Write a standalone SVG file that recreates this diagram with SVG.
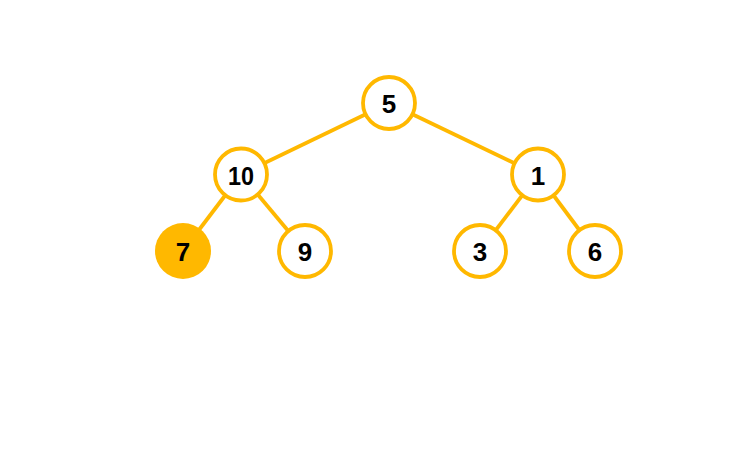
<svg xmlns="http://www.w3.org/2000/svg" width="750" height="450" viewBox="0 0 750 450">
<style>
.edge{stroke:#FFB800;stroke-width:3.8;fill:none}
.node circle{fill:#fff;stroke:#FFB800;stroke-width:3.8}
.node.hl circle{fill:#FFB800}
.node text{font-family:"Liberation Sans",Arial,sans-serif;font-weight:bold;font-size:26px;fill:#000;text-anchor:middle;dominant-baseline:central}
</style>
<rect width="750" height="450" fill="#fff"/>
<g id="connectors">
<line class="edge" x1="389" y1="103" x2="241" y2="174.5"/>
<line class="edge" x1="389" y1="103" x2="538" y2="174.5"/>
<line class="edge" x1="241" y1="174.5" x2="183" y2="251"/>
<line class="edge" x1="241" y1="174.5" x2="305" y2="251"/>
<line class="edge" x1="538" y1="174.5" x2="480" y2="251"/>
<line class="edge" x1="538" y1="174.5" x2="595" y2="251"/>
</g>
<g id="n5" class="node"><circle cx="389" cy="103" r="26"/><text x="389" y="104" textLength="14">5</text></g>
<g id="n10" class="node"><circle cx="241" cy="174.5" r="26"/><text x="241" y="175.5" textLength="26" lengthAdjust="spacingAndGlyphs">10</text></g>
<g id="n1" class="node"><circle cx="538" cy="174.5" r="26"/><text x="538" y="175.5">1</text></g>
<g id="n7" class="node hl"><circle cx="183" cy="251" r="28" style="stroke:none"/><text x="183" y="252">7</text></g>
<g id="n9" class="node"><circle cx="305" cy="251" r="26"/><text x="305" y="252">9</text></g>
<g id="n3" class="node"><circle cx="480" cy="251" r="26"/><text x="480" y="252">3</text></g>
<g id="n6" class="node"><circle cx="595" cy="251" r="26"/><text x="595" y="252">6</text></g>
</svg>
